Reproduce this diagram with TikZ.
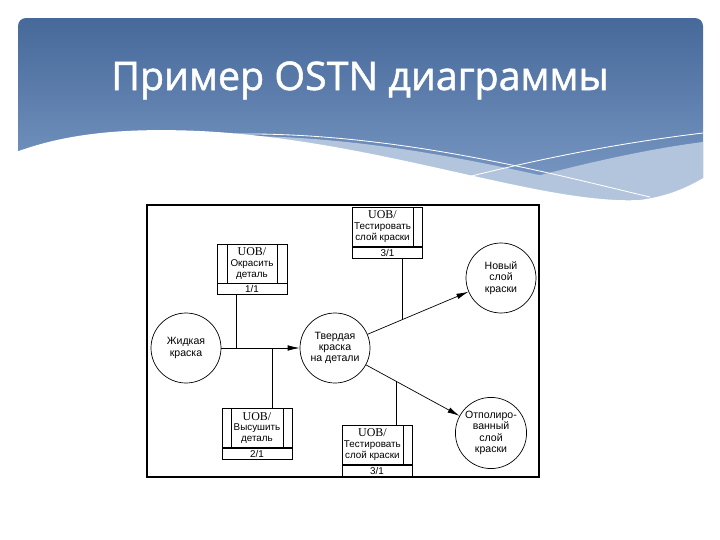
\documentclass[tikz,border=0pt]{standalone}
\usepackage{fontspec}
\setmainfont{Liberation Sans}
\newfontfamily\titlefont[FakeBold=1.3]{Open Sans}
\newfontfamily\uobfont{Liberation Serif}
\usepackage{xcolor}
\definecolor{BannerTop}{HTML}{46699A}
\definecolor{BannerBottom}{HTML}{7E9CC7}
\definecolor{BandLight}{HTML}{B3C5DC}
\usetikzlibrary{arrows.meta,positioning,calc}
\tikzset{
  state/.style={circle,draw,line width=.5pt,minimum size=17.5mm,inner sep=1pt,
    align=center,font=\fontsize{7.5}{8}\selectfont},
  uob/.style={draw,line width=.5pt,minimum width=17.5mm,minimum height=9.75mm,
    inner sep=1pt,align=center,font=\fontsize{7}{7.8}\selectfont},
  uobno/.style={draw,line width=.5pt,minimum width=17.5mm,minimum height=2.75mm,
    inner sep=0pt,font=\fontsize{7}{7}\selectfont},
  arrow/.style={-{Latex[length=3mm,width=1.4mm]},line width=.5pt},
  link/.style={line width=.5pt},
  frame/.style={line width=1.5pt},
  title/.style={text=white,font=\titlefont\fontsize{28}{30}\selectfont}
}
\newcommand{\uobtag}{{\uobfont\fontsize{8.5}{9}\selectfont UOB/}}

\begin{document}
\begin{tikzpicture}[x=0.25mm,y=-0.25mm]
\useasboundingbox (0,0) rectangle (720,540);
\shade[top color=BannerTop,bottom color=BannerBottom,rounded corners=2mm]
  (18,18) rectangle (703,205);
\fill[BandLight] (225,136) .. controls (400,134) and (560,182) .. (650,200) -- (225,205) -- cycle;
\fill[BandLight] (450,200) .. controls (560,168) and (640,150) .. (703,142) -- (703,205) -- cycle;
\fill[white] (16,152) .. controls (70,132) and (130,128) .. (200,131)
  .. controls (380,140) and (540,205) .. (640,200)
  .. controls (670,196) and (690,186) .. (705,177) -- (705,210) -- (16,210) -- cycle;
\draw[white,line width=.6pt] (235,134) .. controls (400,132) and (560,176) .. (650,197);
\draw[white,line width=.6pt] (440,184) .. controls (540,158) and (620,143) .. (703,133);
\node[title,anchor=base] (title) at (360,90) {Пример OSTN диаграммы};

\draw[frame] (147,205) rectangle (539,477);

\node[state] (liquid) at (186,348) {Жидкая\\краска};
\node[state] (solid) at (335,348) {Твердая\\краска\\на детали};
\node[state] (newcoat) at (501,278) {Новый\\слой\\краски};
\node[state] (polished) at (491,433) {Отполиро-\\ванный\\слой\\краски};

\node[uob] (paint) at (252,263.5) {\uobtag\\Окрасить\\деталь};
\node[uobno,below=0pt of paint] (paintno) {1/1};
\node[uob] (dry) at (257,428) {\uobtag\\Высушить\\деталь};
\node[uobno,below=0pt of dry] (dryno) {2/1};
\node[uob] (testtop) at (387.5,227)
  {\hspace*{-2.5mm}\begin{tabular}{@{}c@{}}\uobtag\\Тестировать\\слой краски\end{tabular}};
\node[uobno,below=0pt of testtop] (testtopno) {3/1};
\node[uob] (testbot) at (377,445)
  {\hspace*{-2.3mm}\begin{tabular}{@{}c@{}}\uobtag\\Тестировать\\слой краски\end{tabular}};
\node[uobno,below=0pt of testbot] (testbotno) {3/1};

\draw[link] ([xshift=2.75mm]paint.north west) -- ([xshift=2.75mm]paint.south west);
\draw[link] ([xshift=-2.5mm]paint.north east) -- ([xshift=-2.5mm]paint.south east);
\draw[link] ([xshift=2.5mm]dry.north west) -- ([xshift=2.5mm]dry.south west);
\draw[link] ([xshift=-2.25mm]dry.north east) -- ([xshift=-2.25mm]dry.south east);
\draw[link] ([xshift=-2.5mm]testtop.north east) -- ([xshift=-2.5mm]testtop.south east);
\draw[link] ([xshift=-2.25mm]testbot.north east) -- ([xshift=-2.25mm]testbot.south east);

\draw[arrow] (liquid) -- coordinate[pos=.19] (j1) coordinate[pos=.65] (j2) (solid);
\draw[arrow] (solid) -- coordinate[pos=.34] (j3) (newcoat);
\draw[arrow] (solid) -- coordinate[pos=.32] (j4) (polished);
\draw[link] (paintno.south -| j1) -- (j1);
\draw[link] (dry.north -| j2) -- (j2);
\draw[link] (testtopno.south -| j3) -- (j3);
\draw[link] (testbot.north -| j4) -- (j4);
\end{tikzpicture}
\end{document}
